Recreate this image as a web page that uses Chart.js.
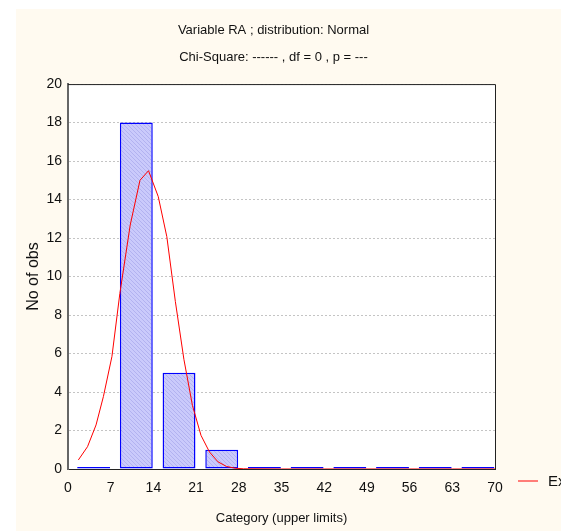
<!DOCTYPE html>
<html>
<head>
<meta charset="utf-8">
<script src="https://cdn.jsdelivr.net/npm/chart.js@4.4.0/dist/chart.umd.min.js"></script>
<style>
  html, body { margin: 0; padding: 0; background: #ffffff; }
  #wrap { position: absolute; left: 16px; top: 9px; width: 545px; height: 522px; background: #fffaf0; }
</style>
</head>
<body>
<div id="wrap"><canvas id="hist"></canvas></div>
<script>
// histogram bins (upper limits) and observed counts
var upperLimits = [7, 14, 21, 28, 35, 42, 49, 56, 63, 70];
var counts = [0, 18, 5, 1, 0, 0, 0, 0, 0, 0];
var binWidth = 7;

// expected normal curve
var curveX = [1.7, 3.2, 4.6, 5.8, 7.2, 8.5, 10.2, 11.8, 13.2, 14.8, 16.2, 17.6, 19.0, 20.4, 21.8, 23.2, 24.6, 26.0, 27.4, 28.8, 35, 42, 49, 56, 63, 70];
var curveY = [0.47, 1.16, 2.29, 3.76, 5.84, 9.12, 12.68, 15.0, 15.5, 14.15, 12.07, 8.7, 5.7, 3.3, 1.75, 0.88, 0.37, 0.13, 0.04, 0.01, 0, 0, 0, 0, 0, 0];

var xTicks = [0, 7, 14, 21, 28, 35, 42, 49, 56, 63, 70];

var titleLines = ['Variable RA ; distribution: Normal', 'Chi-Square: ------ , df = 0 , p = ---'];

Chart.defaults.font.family = '"Liberation Sans", Arial, sans-serif';
Chart.defaults.color = '#111';

// light blue hatch for the bars
function hatch() {
    var c = document.createElement('canvas');
    c.width = 4; c.height = 4;
    var g = c.getContext('2d');
    g.fillStyle = '#cacafb';
    g.fillRect(0, 0, 4, 4);
    g.strokeStyle = '#b2b2f0';
    g.lineWidth = 1;
    g.beginPath();
    g.moveTo(-1, -1); g.lineTo(5, 5);
    g.stroke();
    return g.createPattern(c, 'repeat');
}

var barData = upperLimits.map(function (u, i) {
    return { x: u - binWidth * 0.4, y: counts[i] };
});
var curveData = curveX.map(function (x, i) {
    return { x: x, y: curveY[i] };
});

var plotFrame = {
    id: 'plotFrame',
    beforeDraw: function (chart) {
        var a = chart.chartArea, ctx = chart.ctx;
        ctx.save();
        ctx.fillStyle = '#ffffff';
        ctx.fillRect(a.left, a.top, a.right - a.left, a.bottom - a.top);
        ctx.restore();
    },
    afterDraw: function (chart) {
        var a = chart.chartArea, ctx = chart.ctx;
        ctx.save();
        ctx.strokeStyle = '#222';
        ctx.lineWidth = 1;
        ctx.beginPath();
        ctx.moveTo(a.left, a.top + 0.5);
        ctx.lineTo(a.right + 0.5, a.top + 0.5);
        ctx.lineTo(a.right + 0.5, a.bottom);
        ctx.stroke();
        // legend entry for the curve, outside the plot
        var ds = chart.data.datasets[1];
        var y = a.bottom + 12;
        ctx.strokeStyle = ds.borderColor;
        ctx.beginPath();
        ctx.moveTo(a.right + 23, y);
        ctx.lineTo(a.right + 43, y);
        ctx.stroke();
        ctx.fillStyle = '#111';
        ctx.font = '15px ' + Chart.defaults.font.family;
        ctx.textBaseline = 'middle';
        ctx.fillText(ds.label, a.right + 53, y + 1);
        ctx.restore();
    }
};

new Chart(document.getElementById('hist'), {
    type: 'bar',
    data: {
        datasets: [
            {
                type: 'bar',
                label: 'Observed',
                data: barData,
                backgroundColor: hatch(),
                borderColor: '#0000ff',
                borderWidth: 1.5,
                borderSkipped: false,
                barPercentage: 0.77,
                categoryPercentage: 1,
                minBarLength: 2,
                order: 1
            },
            {
                type: 'line',
                label: 'Expected Normal',
                data: curveData,
                borderColor: '#ff0000',
                borderWidth: 1,
                pointRadius: 0,
                tension: 0,
                order: 0
            }
        ]
    },
    options: {
        responsive: true,
        maintainAspectRatio: false,
        animation: false,
        layout: { padding: { right: 30 } },
        plugins: {
            legend: { display: false },
            tooltip: { enabled: false },
            title: {
                display: true,
                text: titleLines,
                color: '#111',
                font: { size: 13, weight: 'normal', lineHeight: 2.08 },
                padding: { top: 8, bottom: 13 }
            }
        },
        scales: {
            x: {
                type: 'linear',
                min: 0,
                max: 70,
                offset: false,
                afterFit: function (s) { s.height = 62; },
                afterBuildTicks: function (s) { s.ticks = xTicks.map(function (v) { return { value: v }; }); },
                grid: { display: false, drawTicks: false },
                border: { color: '#222', width: 1 },
                ticks: { font: { size: 14 }, padding: 11, maxRotation: 0, autoSkip: false },
                title: { display: true, text: 'Category (upper limits)', font: { size: 13 }, padding: { top: 0, bottom: 5 } }
            },
            y: {
                min: 0,
                max: 20,
                afterFit: function (s) { s.width = 52; },
                grid: { color: '#c4c4c4', drawTicks: false },
                border: { color: '#666', width: 2, dash: [2, 2] },
                ticks: { stepSize: 2, font: { size: 14 }, padding: 6 },
                title: { display: true, text: 'No of obs', font: { size: 16 }, padding: { top: 8, bottom: 0 } }
            },
            yr: {
                position: 'right',
                afterFit: function (s) { s.width = 36; },
                grid: { display: false, drawTicks: false },
                border: { display: false },
                ticks: { display: false }
            }
        }
    },
    plugins: [plotFrame]
});
</script>
</body>
</html>
